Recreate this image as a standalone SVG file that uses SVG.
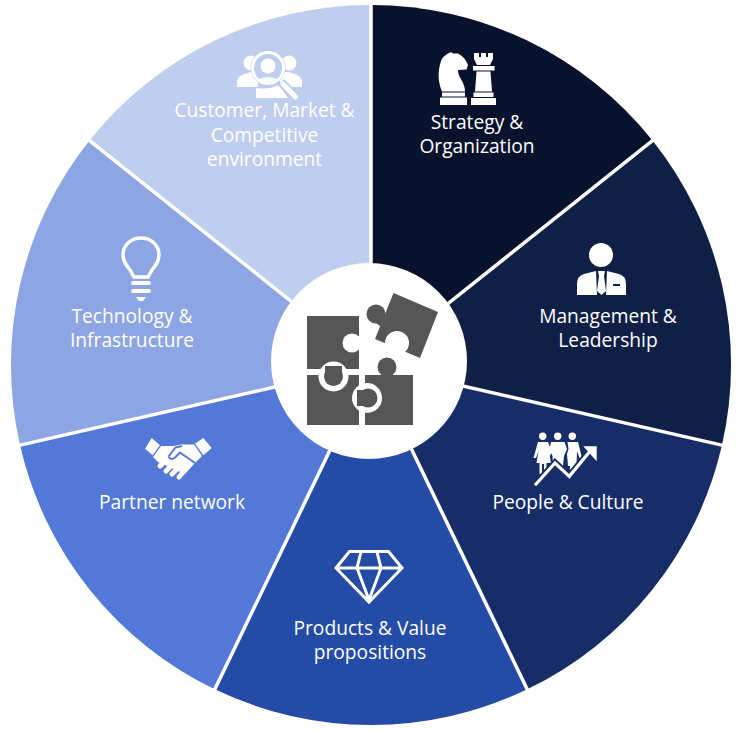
<svg xmlns="http://www.w3.org/2000/svg" width="744" height="732" viewBox="0 0 744 732">
<style>
text{font-family:"Open Sans","Noto Sans","Liberation Sans",sans-serif;font-size:19.2px;fill:#fff;text-anchor:middle}
.i{fill:#fff}
.o{fill:none;stroke:#fff}
.p{fill:#565656}
.c{fill:#fff}
</style>
<rect width="744" height="732" fill="#fff"/>
<g id="node-strategy">
<path fill="#08122c" d="M371 365V5A360 360 0 0 1 652.500 140.500Z"/>
<path class="i" d="M440 97.500H467V105H440ZM442 92.500H465V96.500H442ZM442 91.500C438 82 437.500 72 441 61C443 56 447 54 451 52L453 53.500L458 53.500C463 56 466 60 468 65L466.500 69.500L458 70C458 74 460 78 462 81C464 85 465 88 465 91.500Z"/>
<path class="i" d="M471 98H496V105H471ZM473.500 92.500H493.500V97H473.500ZM475 91.500L476.500 71.500H490.500L492 91.500ZM473 66H494.500V70.500H473ZM474 53H479V57H481V53H486V57H488V53H493V59L490 65H477L474 59Z"/>
<text x="477" y="129">Strategy &amp;</text><text x="477" y="153">Organization</text>
</g>
<g id="node-management">
<path fill="#0f1f45" d="M371 365L652.500 140.500A360 360 0 0 1 722 445.100Z"/>
<circle class="i" cx="601" cy="255" r="12"/>
<path class="i" d="M577 295V284Q577 276 584 274L596 271L597 295ZM607 271L619 274Q626 276 626 284V295H606Z"/>
<path class="i" d="M598 271H605L604 276L606 291L601.500 295L597 291L599 276Z"/>
<rect x="613" y="284" width="7" height="2" fill="#0f1f45"/>
<text x="608" y="323">Management &amp;</text><text x="608" y="347">Leadership</text>
</g>
<g id="node-people">
<path fill="#162d67" d="M371 365L722 445.100A360 360 0 0 1 527.200 689.300Z"/>
<circle class="i" cx="542.700" cy="436.300" r="3.700"/><circle class="i" cx="557.700" cy="436.300" r="3.700"/><circle class="i" cx="572.300" cy="436.300" r="3.700"/>
<path class="i" d="M538 442H548L552 452L550 456L549 451L551 463H546.500V474H544V464H542V474H539.500V463H536.500L538.500 451L536 458H533.500Z"/>
<path class="i" d="M551 442H564.500L567 449L564 456L563 466H553L552.500 456L549.500 449Z"/>
<path class="i" d="M567.500 442H578L582 458H579.500L577 451L576.500 466H574V472H570V466H568L567 454L568.500 449Z"/>
<path fill="none" stroke="#162d67" stroke-width="7" d="M535 485.300L555 463L569.300 476.300L590 451.300"/>
<path class="o" stroke-width="3.200" d="M535 485.300L555 463L569.300 476.300L590 451.300"/>
<path class="i" d="M583.300 446.300H596.700V461.300Z"/>
<text x="568" y="509">People &amp; Culture</text>
</g>
<g id="node-products">
<path fill="#244ba6" d="M371 365L527.200 689.300A360 360 0 0 1 214.800 689.300Z"/>
<path class="o" stroke-width="3" d="M349.500 551.500H388.500L402 568L369 602L336 568ZM336 568H402M361 552L357 568L369 600L381 568L377 552"/>
<text x="370" y="635">Products &amp; Value</text><text x="370" y="659">propositions</text>
</g>
<g id="node-partner">
<path fill="#5478d8" d="M371 365L214.800 689.300A360 360 0 0 1 20 445.100Z"/>
<path class="i" d="M151.700 438L160 445.300L152.700 455.300L145 448.700ZM203.300 438L211.700 448L203.300 455.300L195 443.700Z"/>
<path class="i" d="M161 446H173L181 444.500H194L202 456L195 463L185 474L176 470L158 462L153 457Z"/>
<path class="o" stroke-width="5" stroke-linecap="round" d="M160 466L166 460M166 471L172 465M172 474L178 468M179 477L184 471"/>
<path fill="none" stroke="#5478d8" stroke-width="2" stroke-linejoin="round" d="M168.500 456.500L175.500 447.500L182 446M168.500 456.500Q171 461 175 457.500L180 452.500L195 463"/>
<text x="172" y="509">Partner network</text>
</g>
<g id="node-technology">
<path fill="#8ea5e3" d="M371 365L20 445.100A360 360 0 0 1 89.500 140.500Z"/>
<path class="o" stroke-width="3.500" d="M134 277L130 270C126 265 123 261 123 255C123 245 131 238 141 238C151 238 159 245 159 255C159 261 156 265 152 270L148 277Z"/>
<path class="o" stroke-width="4" stroke-linecap="round" d="M133 283H149M133 291H149"/>
<path class="i" d="M136 297H146L143 301H139Z"/>
<text x="132" y="323">Technology &amp;</text><text x="132" y="347">Infrastructure</text>
</g>
<g id="node-customer">
<path fill="#bfcdef" d="M371 365L89.500 140.500A360 360 0 0 1 371 5Z"/>
<circle class="i" cx="251" cy="63" r="7.500"/><circle class="i" cx="289" cy="63" r="7.500"/>
<path class="i" d="M237 87V81Q238 76 244 74L251 72H258V87ZM302 87V81Q301 76 295 74L288 72H280V87Z"/>
<circle cx="268" cy="68" r="17.500" fill="#bfcdef"/>
<circle cx="268" cy="68" r="15.500" fill="#bfcdef" stroke="#fff" stroke-width="3"/>
<circle class="i" cx="268" cy="66" r="7.500"/>
<path class="i" d="M257.500 80Q268 74 278.500 80L271 84H262Z"/>
<path class="i" d="M256 88Q268 90 279 85L288 98H256Z"/>
<path fill="none" stroke="#bfcdef" stroke-width="9" d="M281 82L296 98"/>
<path class="o" stroke-width="5" stroke-linecap="round" d="M283 84L295.500 97"/>
<text x="264.500" y="117">Customer, Market &amp;</text><text x="264.500" y="142">Competitive</text><text x="264.500" y="166">environment</text>
</g>
<g id="dividers" stroke="#fff" stroke-width="3.500">
<path d="M371 365V3M371 365L654 139.300M371 365L724 445.600M371 365L528 691M371 365L214 691M371 365L18 445.600M371 365L88 139.300"/>
</g>
<g id="node-center">
<circle cx="369" cy="361" r="98" fill="#fff"/>
<path class="p" d="M307 316H359V369H307Z"/>
<circle class="c" cx="352" cy="343" r="9.500"/><rect class="c" x="352" y="339" width="8" height="8"/>
<path class="p" d="M307 375H359V425H307Z"/>
<circle class="c" cx="333.500" cy="376.500" r="15"/><rect class="c" x="317" y="369" width="33" height="6"/>
<circle class="p" cx="333.500" cy="376.500" r="9.500"/><rect class="p" x="325" y="366" width="17" height="9"/>
<path class="p" d="M365 375H413V425H365Z"/>
<circle class="c" cx="367" cy="398" r="15"/><rect class="c" x="359" y="383" width="6" height="30"/>
<circle class="p" cx="368" cy="398" r="9.500"/><rect class="p" x="357" y="390" width="10" height="16"/>
<circle class="p" cx="387" cy="367" r="9.500"/><rect class="p" x="381" y="370" width="12" height="6"/>
<path class="p" d="M393.500 293L438 312L420 358L375 339Z"/>
<circle class="p" cx="376" cy="314" r="9.500"/><path class="p" d="M380 316L389 320L385 330L376 323Z"/>
<circle class="c" cx="397" cy="343" r="12"/><path class="c" d="M388 338L407 346L403 354L384 346Z"/>
</g>
</svg>
